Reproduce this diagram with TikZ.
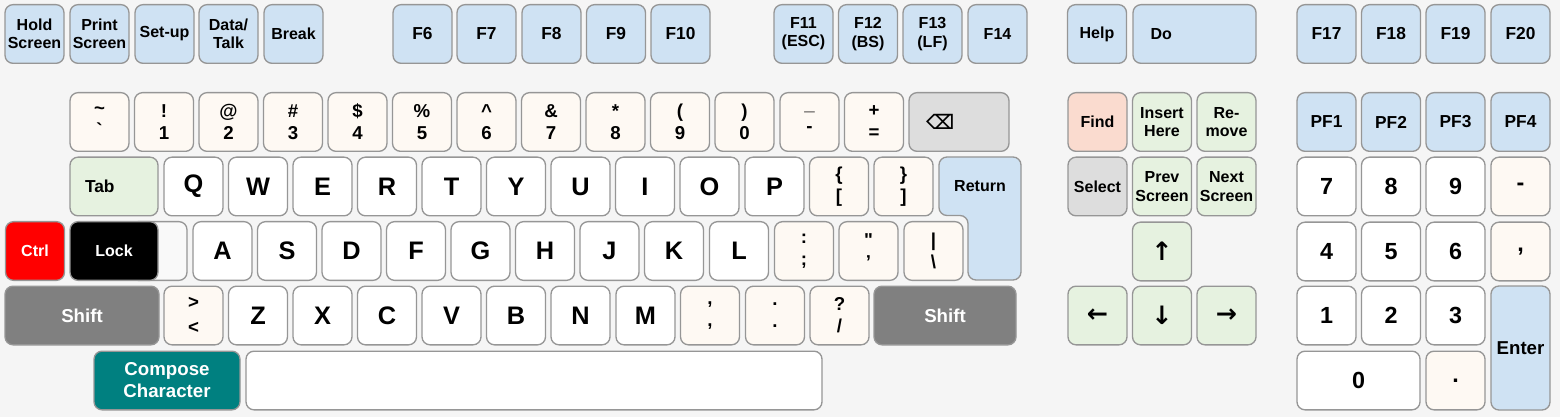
\documentclass[tikz,border=0pt]{standalone}
\usepackage{fontspec}
\setmainfont{Liberation Sans}
\newfontfamily\symfont{DejaVu Sans}
\usepackage{xcolor}
\usepackage{tikz}

\definecolor{keyline}{RGB}{150,150,150}
\definecolor{keyblue}{RGB}{207,226,243}
\definecolor{keycream}{RGB}{254,249,243}
\definecolor{keygreen}{RGB}{230,242,224}
\definecolor{keyfind}{RGB}{250,219,207}
\definecolor{keygray}{RGB}{221,221,221}
\definecolor{keyshift}{RGB}{128,128,128}
\definecolor{keyteal}{RGB}{0,128,128}
\definecolor{boardbg}{RGB}{245,245,245}

\tikzset{
  key/.style={draw=keyline, line width=1pt, rounded corners=6pt, fill=white,
    minimum width=44.25pt, minimum height=44pt, inner sep=0pt, align=center,
    font=\bfseries\fontsize{12}{13.7}\selectfont},
  fkey/.style={key, fill=keyblue},
  fbig/.style={fkey, font=\bfseries\fontsize{13}{15}\selectfont},
  numkey/.style={key, fill=keycream, font=\bfseries\fontsize{14}{16.5}\selectfont},
  letter/.style={key, font=\bfseries\fontsize{19}{21}\selectfont},
  editkey/.style={key, fill=keygreen},
  arrowkey/.style={editkey, font=\symfont\bfseries\fontsize{19}{21}\selectfont},
  padkey/.style={key, font=\bfseries\fontsize{17.5}{19}\selectfont},
  padsym/.style={padkey, fill=keycream},
  modkey/.style={key, fill=keyshift, text=white, font=\bfseries\fontsize{14}{16.5}\selectfont}
}

\begin{document}
\begin{tikzpicture}[x=0.75pt,y=0.75pt,yscale=-1,xscale=1]

\useasboundingbox (0,0) rectangle (1560,417);
\fill[boardbg] (0,0) rectangle (1560,417);

% top row
\node[fkey] (hold) at (34.5,34) {Hold\\Screen};
\node[fkey] (print) at (99.5,34) {Print\\Screen};
\node[fkey] (setup) at (164.5,34) {Set-up};
\node[fkey] (datatalk) at (228.5,34) {Data/\\Talk};
\node[fkey] (brk) at (293.5,34) {Break};

\node[fbig] (f6) at (422.5,34) {F6};
\node[fbig] (f7) at (486.5,34) {F7};
\node[fbig] (f8) at (551.5,34) {F8};
\node[fbig] (f9) at (616,34) {F9};
\node[fbig] (f10) at (680.5,34) {F10};

\node[fkey] (f11) at (803.5,34) {F11\\(ESC)};
\node[fkey] (f12) at (868,34) {F12\\(BS)};
\node[fkey] (f13) at (932.5,34) {F13\\(LF)};
\node[fkey] (f14) at (997.5,34) {F14};

\node[fkey] (help) at (1097,34) {Help};
\node[fkey, minimum width=92.25pt, text width=66pt, align=left] (do) at (1194.5,34) {Do};

\node[fbig] (f17) at (1326.5,34) {F17};
\node[fbig] (f18) at (1391,34) {F18};
\node[fbig] (f19) at (1455.5,34) {F19};
\node[fbig] (f20) at (1520.5,34) {F20};

% number row
\node[numkey] (tilde) at (99.5,122) {\textasciitilde\\\textasciigrave};
\node[numkey] (one) at (164,122) {!\\1};
\node[numkey] (two) at (228.5,122) {@\\2};
\node[numkey] (three) at (293,122) {\#\\3};
\node[numkey] (four) at (357.5,122) {\$\\4};
\node[numkey] (five) at (422,122) {\%\\5};
\node[numkey] (six) at (486.5,122) {\textasciicircum\\6};
\node[numkey] (seven) at (551,122) {\&\\7};
\node[numkey] (eight) at (615.5,122) {*\\8};
\node[numkey] (nine) at (680,122) {(\\9};
\node[numkey] (zero) at (744.5,122) {)\\0};
\node[numkey] (minus) at (809.5,122) {\_\\-};
\node[numkey] (equal) at (874,122) {+\\=};
\node[key, fill=keygray, minimum width=75pt, text width=49.5pt, align=left,
  font=\symfont\bfseries\fontsize{15}{17}\selectfont] (bksp) at (959,122) {⌫};

\node[key, fill=keyfind] (find) at (1097.5,122) {Find};
\node[editkey] (insert) at (1162,122) {Insert\\Here};
\node[editkey] (remove) at (1226.5,122) {Re-\\move};

\node[fbig] (pf1) at (1326.5,122) {PF1};
\node[fbig] (pf2) at (1391,122) {PF2};
\node[fbig] (pf3) at (1455.5,122) {PF3};
\node[fbig] (pf4) at (1520.5,122) {PF4};

% qwerty row
\node[editkey, minimum width=66pt, text width=43.5pt, align=left,
  font=\bfseries\fontsize{13}{15}\selectfont] (tab) at (114,186.5) {Tab};
\node[letter] (q) at (193.5,186.5) {Q};
\node[letter] (w) at (258,186.5) {W};
\node[letter] (e) at (322.5,186.5) {E};
\node[letter] (r) at (387,186.5) {R};
\node[letter] (t) at (451.5,186.5) {T};
\node[letter] (y) at (516,186.5) {Y};
\node[letter] (u) at (580.5,186.5) {U};
\node[letter] (i) at (645,186.5) {I};
\node[letter] (o) at (709.5,186.5) {O};
\node[letter] (p) at (774.5,186.5) {P};
\node[numkey] (lbrace) at (839,186.5) {\{\\{[}};
\node[numkey] (rbrace) at (903.5,186.5) {\}\\{]}};

\draw[draw=keyline, line width=1pt, rounded corners=6pt, fill=keyblue]
  (939,157) -- (1021,157) -- (1021,280) -- (968,280) -- (968,215.5) -- (939,215.5) -- cycle;
\node[font=\bfseries\fontsize{12}{14}\selectfont] (ret) at (980,186) {Return};

\node[key, fill=keygray] (select) at (1097.5,186.5) {Select};
\node[editkey] (prev) at (1162,186.5) {Prev\\Screen};
\node[editkey] (next) at (1226.5,186.5) {Next\\Screen};

\node[padkey] (kp7) at (1326.5,186.5) {7};
\node[padkey] (kp8) at (1391,186.5) {8};
\node[padkey] (kp9) at (1455.5,186.5) {9};
\node[padsym] (kpminus) at (1520.5,186.5) {-};

% home row
\node[key, fill=red, text=white] (ctrl) at (35,251) {Ctrl};
\node[key, fill=boardbg!60!white, minimum width=42.75pt] (blank) at (158.5,251) {};
\node[key, fill=black, text=white, minimum width=66pt] (lock) at (114,251) {Lock};
\node[letter] (a) at (222.5,251) {A};
\node[letter] (s) at (287,251) {S};
\node[letter] (d) at (351.5,251) {D};
\node[letter] (f) at (416,251) {F};
\node[letter] (g) at (480.5,251) {G};
\node[letter] (h) at (545,251) {H};
\node[letter] (j) at (609.5,251) {J};
\node[letter] (k) at (674,251) {K};
\node[letter] (l) at (739,251) {L};
\node[numkey] (semi) at (804,251) {:\\;};
\node[numkey] (quote) at (868.5,251) {\textquotedbl\\'};
\node[numkey] (bslash) at (933.5,251) {|\\\textbackslash};

\node[arrowkey] (up) at (1162,251.5) {↑};

\node[padkey] (kp4) at (1326.5,251.5) {4};
\node[padkey] (kp5) at (1391,251.5) {5};
\node[padkey] (kp6) at (1455.5,251.5) {6};
\node[padsym] (kpcomma) at (1520.5,251.5) {,};

% bottom row
\node[modkey, minimum width=115.5pt] (lshift) at (82,315.5) {Shift};
\node[numkey, font=\bfseries\fontsize{14}{18.5}\selectfont] (angle) at (193.5,315.5) {>\\<};
\node[letter] (z) at (258,315.5) {Z};
\node[letter] (x) at (322.5,315.5) {X};
\node[letter] (c) at (387,315.5) {C};
\node[letter] (v) at (451.5,315.5) {V};
\node[letter] (b) at (516,315.5) {B};
\node[letter] (n) at (580.5,315.5) {N};
\node[letter] (m) at (645.5,315.5) {M};
\node[numkey] (comma) at (710,315.5) {,\\,};
\node[numkey] (period) at (775,315.5) {.\\.};
\node[numkey] (slash) at (839.5,315.5) {?\\/};
\node[modkey, minimum width=106.5pt] (rshift) at (945,315.5) {Shift};

\node[arrowkey] (left) at (1097.5,315.5) {←};
\node[arrowkey] (down) at (1162,315.5) {↓};
\node[arrowkey] (right) at (1226.5,315.5) {→};

\node[padkey] (kp1) at (1326.5,315.5) {1};
\node[padkey] (kp2) at (1391,315.5) {2};
\node[padkey] (kp3) at (1455.5,315.5) {3};
\node[fkey, minimum height=93pt, font=\bfseries\fontsize{14}{16}\selectfont] (enter) at (1520.5,348) {Enter};

% space row
\node[modkey, fill=keyteal, minimum width=109.5pt] (compose) at (167,380.5) {Compose\\Character};
\node[key, minimum width=432pt] (space) at (534,380.5) {};

\node[padkey, minimum width=92.25pt] (kp0) at (1358.5,380.5) {0};
\node[padsym] (kpdot) at (1455.5,380.5) {.};

\end{tikzpicture}
\end{document}
